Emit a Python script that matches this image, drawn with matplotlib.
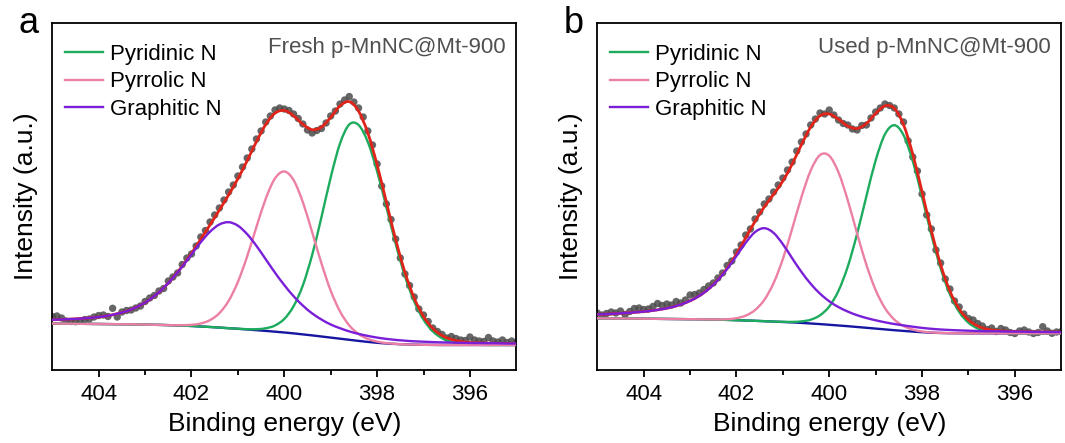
import numpy as np
import matplotlib
matplotlib.use("Agg")
import matplotlib.pyplot as plt
from matplotlib.path import Path
from matplotlib.patches import PathPatch
from matplotlib.lines import Line2D

plt.rcParams["font.family"] = ["Liberation Sans", "DejaVu Sans"]

# binding energy grids (eV): fitted curves every 0.2 eV, measured points every 0.1 eV
fit_energy = np.linspace(405, 395, 51)
raw_energy = np.linspace(405, 395, 101)

# ---- panel a: fresh sample (arbitrary intensity units) ----
fresh_background = [
    46.5, 46.4, 46.3, 46.2, 46.1, 46.0, 45.9, 45.8, 45.7, 45.6,
    45.4, 45.2, 45.0, 44.7, 44.4, 44.0, 43.5, 43.0, 42.4, 41.8,
    41.2, 40.5, 39.8, 39.1, 38.3, 37.5, 36.6, 35.6, 34.6, 33.5,
    32.4, 31.3, 30.2, 29.1, 28.1, 27.2, 26.5, 26.0, 25.6, 25.4,
    25.2, 25.1] + [25.0] * 9
# component heights above the background
fresh_pyridinic = [0] * 20 + [
    0.1, 0.3, 1.0, 2.6, 6.2, 13.6, 27.2, 49.1, 80.4, 119.2,
    160.2, 195.1, 215.3, 215.9, 199.9, 171.5, 136.3, 100.2, 68.3, 43.1,
    25.2, 13.6, 6.8, 3.2, 1.4, 0.5, 0.2] + [0] * 4
fresh_pyrrolic = [0] * 13 + [
    0.1, 0.4, 1.2, 3.0, 6.9, 14.4, 27.3, 46.9, 73.2, 103.3,
    132.2, 153.3, 161.0, 153.3, 132.2, 103.3, 73.2, 46.9, 27.3, 14.4,
    6.9, 3.0, 1.2, 0.4, 0.1] + [0] * 13
fresh_graphitic = [
    3.7, 4.1, 4.6, 5.2, 6.0, 7.0, 8.4, 10.5, 13.1, 17.0,
    22.0, 28.8, 37.2, 47.4, 59.0, 71.6, 84.3, 95.3, 103.1, 106.0,
    103.1, 95.3, 84.3, 71.6, 59.0, 47.4, 37.2, 28.8, 22.0, 17.0,
    13.1, 10.5, 8.4, 7.0, 6.0, 5.2, 4.6, 4.1, 3.7, 3.3,
    3.1, 2.8, 2.6, 2.4, 2.2, 2.0, 1.9, 1.8, 1.7, 1.5, 1.5]
fresh_raw = [
    53.5, 54.0, 52.0, 49.0, 48.5, 48.3, 49.0, 50.5, 51.0, 53.0,
    54.5, 55.0, 53.5, 61.7, 53.0, 58.0, 59.5, 60.0, 62.0, 64.0,
    68.5, 72.0, 74.5, 79.0, 81.5, 89.0, 93.0, 97.0, 105.5, 112.0,
    116.0, 124.0, 133.0, 139.5, 148.0, 155.0, 162.0, 170.0, 178.0, 185.0,
    194.0, 203.0, 212.0, 221.0, 231.0, 239.0, 248.0, 254.0, 260.0, 262.0,
    261.0, 259.5, 256.0, 251.5, 246.0, 240.0, 237.0, 239.5, 241.5, 247.0,
    254.0, 259.0, 266.0, 270.0, 273.5, 268.0, 262.0, 253.0, 239.0, 225.0,
    206.0, 184.0, 166.0, 150.5, 131.0, 112.0, 96.0, 84.5, 73.0, 61.0,
    55.0, 48.5, 42.0, 38.5, 35.5, 32.0, 33.5, 31.5, 30.0, 29.5,
    33.0, 30.0, 29.0, 28.5, 32.5, 29.0, 28.0, 30.0, 27.5, 29.0, 27.0]

# ---- panel b: used sample ----
used_background = [
    51.7, 51.6, 51.5, 51.45, 51.4, 51.3, 51.2, 51.1, 51.0, 50.9,
    50.8, 50.7, 50.5, 50.3, 50.1, 49.8, 49.5, 49.2, 48.8, 48.4,
    48.0, 47.6, 47.1, 46.5, 45.9, 45.2, 44.5, 43.8, 43.0, 42.2,
    41.4, 40.6, 39.8, 39.1, 38.4, 37.8, 37.3, 37.0, 36.8, 36.7] + [36.6] * 11
used_pyridinic = [0] * 20 + [
    0.2, 0.5, 1.5, 3.8, 8.8, 18.3, 34.8, 59.8, 93.2, 131.5,
    168.3, 195.1, 205.0, 195.8, 170.4, 135.3, 97.9, 64.7, 38.9, 21.4,
    10.7, 4.9, 2.0, 0.8, 0.3] + [0] * 6
used_pyrrolic = [0] * 12 + [
    0.1, 0.25, 0.7, 2.0, 4.9, 10.7, 21.3, 38.5, 63.0, 93.5,
    125.7, 153.0, 169.0, 169.0, 153.0, 125.7, 93.5, 63.0, 38.5, 21.3,
    10.7, 4.9, 2.0, 0.7, 0.25, 0.1] + [0] * 13
used_graphitic = [
    3.9, 4.3, 4.9, 5.5, 6.2, 7.1, 8.3, 9.8, 11.8, 14.6,
    18.4, 23.5, 30.5, 39.7, 51.0, 64.2, 77.8, 88.7, 93.0, 88.7,
    77.8, 64.2, 51.0, 39.7, 30.5, 23.5, 18.4, 14.6, 11.8, 9.8,
    8.3, 7.1, 6.2, 5.5, 4.9, 4.3, 3.9, 3.5, 3.2, 2.9,
    2.7, 2.4, 2.2, 2.1, 1.9, 1.8, 1.7, 1.5, 1.45, 1.36, 1.28]
used_raw = [
    57.0, 55.0, 56.5, 58.0, 57.0, 59.0, 55.5, 58.5, 61.5, 62.0,
    60.5, 61.0, 63.5, 66.5, 64.5, 66.0, 65.0, 68.5, 67.0, 70.0,
    75.0, 75.5, 77.0, 80.5, 84.0, 87.0, 92.0, 97.0, 104.5, 109.0,
    118.0, 125.0, 135.0, 141.0, 151.0, 158.0, 166.0, 171.0, 178.0, 185.0,
    192.0, 200.0, 208.0, 219.0, 228.0, 236.0, 245.0, 251.0, 257.0, 256.0,
    260.0, 255.0, 250.0, 246.5, 245.0, 241.0, 240.0, 244.5, 245.0, 252.0,
    258.0, 262.0, 266.0, 264.5, 262.0, 256.0, 248.0, 229.0, 213.0, 199.0,
    176.0, 155.0, 141.0, 120.0, 107.0, 91.0, 81.0, 69.0, 63.0, 56.0,
    51.5, 50.0, 46.5, 44.0, 40.5, 42.0, 38.5, 41.5, 40.0, 37.5,
    36.5, 39.0, 40.0, 38.0, 36.5, 37.5, 43.3, 39.0, 36.7, 38.0, 38.3]

GREEN = "#1dab5e"
PINK = "#ec7fa4"
PURPLE = "#7a1fd8"
BLUE = "#1616a2"
RED = "#e2231a"
DOT = "#4b4b4b"


def smooth_line(ax, x, y, color, lw, zorder):
    # spline-style connection through the points (like Origin's "spline" line)
    pts = np.column_stack([x, y])
    n = len(pts)
    verts = [pts[0]]
    codes = [Path.MOVETO]
    for i in range(n - 1):
        p0 = pts[max(i - 1, 0)]
        p1 = pts[i]
        p2 = pts[i + 1]
        p3 = pts[min(i + 2, n - 1)]
        verts += [p1 + (p2 - p0) / 6, p2 - (p3 - p1) / 6, p2]
        codes += [Path.CURVE4] * 3
    patch = PathPatch(Path(verts, codes), facecolor="none", edgecolor=color,
                      lw=lw, zorder=zorder, capstyle="round",
                      joinstyle="round")
    ax.add_patch(patch)
    return Line2D([], [], color=color, lw=lw)


def draw_ax(ax, raw, bg, pyridinic, pyrrolic, graphitic, sample):
    bg = np.asarray(bg)
    parts = [np.asarray(p) for p in (pyridinic, pyrrolic, graphitic)]
    envelope = bg + sum(parts)

    ax.scatter(raw_energy, raw, s=28, color=DOT, alpha=0.85,
               edgecolors="none", zorder=1)
    smooth_line(ax, fit_energy, bg, BLUE, 1.7, 2)
    h1 = smooth_line(ax, fit_energy, bg + parts[0], GREEN, 1.7, 3)
    smooth_line(ax, fit_energy, envelope, RED, 2.0, 4)
    h2 = smooth_line(ax, fit_energy, bg + parts[1], PINK, 1.7, 5)
    h3 = smooth_line(ax, fit_energy, bg + parts[2], PURPLE, 1.7, 6)

    ax.set_xlim(405, 395)
    ax.set_ylim(0, 347)
    ax.set_xticks([404, 402, 400, 398, 396])
    ax.set_xticks([403, 401, 399, 397], minor=True)
    ax.set_yticks([])
    ax.tick_params(axis="x", which="major", direction="out", length=5,
                   width=1.3, labelsize=16, pad=5)
    ax.tick_params(axis="x", which="minor", direction="out", length=3.5,
                   width=1.3)
    for sp in ax.spines.values():
        sp.set_linewidth(1.3)

    ax.set_xlabel("Binding energy (eV)", fontsize=19, labelpad=5)
    ax.set_ylabel("Intensity (a.u.)", fontsize=19, labelpad=10)

    ax.legend(handles=[h1, h2, h3],
              labels=["Pyridinic N", "Pyrrolic N", "Graphitic N"],
              loc="upper left", bbox_to_anchor=(0.027, 0.94), frameon=False,
              fontsize=16, handlelength=1.7, handletextpad=0.35,
              labelspacing=0.3, borderpad=0, borderaxespad=0)
    ax.text(0.977, 0.93, sample, transform=ax.transAxes, ha="right",
            va="center", fontsize=16, color="#505050")


def main():
    fig = plt.figure(figsize=(10.65, 4.43), dpi=100)
    ax_a = fig.add_axes([0.0491, 0.1648, 0.4357, 0.7833])
    ax_b = fig.add_axes([0.5608, 0.1648, 0.4357, 0.7833])

    draw_ax(ax_a, fresh_raw, fresh_background, fresh_pyridinic,
            fresh_pyrrolic, fresh_graphitic, "Fresh p-MnNC@Mt-900")
    draw_ax(ax_b, used_raw, used_background, used_pyridinic,
            used_pyrrolic, used_graphitic, "Used p-MnNC@Mt-900")

    fig.text(0.017, 0.926, "a", fontsize=26, va="baseline")
    fig.text(0.529, 0.926, "b", fontsize=26, va="baseline")

    fig.savefig("out.png", dpi=100)


main()
